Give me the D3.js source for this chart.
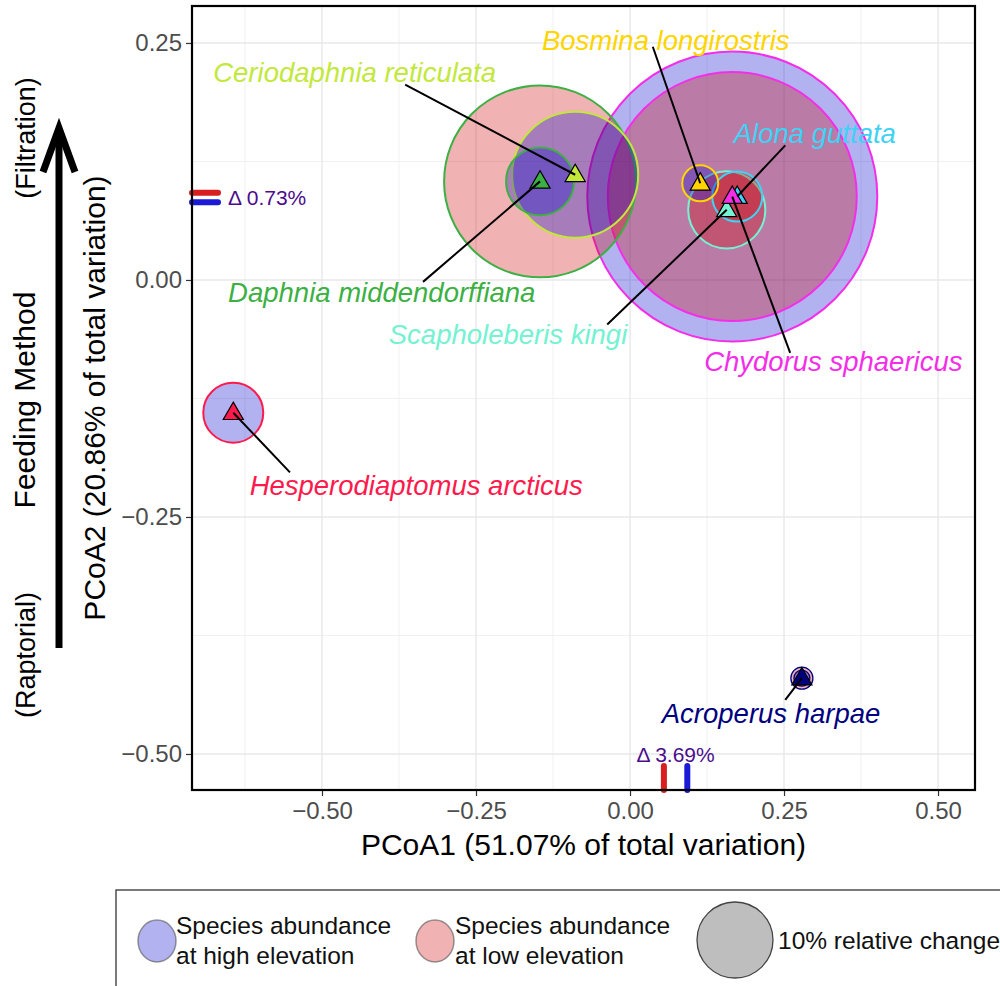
<!DOCTYPE html>
<html>
<head>
<meta charset="utf-8">
<script src="https://cdn.jsdelivr.net/npm/d3@7"></script>
<style>
  html, body { margin: 0; padding: 0; background: #fff; }
  svg { display: block; }
  text { font-family: "Liberation Sans", Arial, Helvetica, sans-serif; }
</style>
</head>
<body>
<svg id="chart" width="1000" height="986"></svg>
<script>
// ---- data ----------------------------------------------------------------
const species = [
  "Daphnia middendorffiana", "Ceriodaphnia reticulata", "Bosmina longirostris",
  "Scapholeberis kingi", "Alona guttata", "Chydorus sphaericus",
  "Hesperodiaptomus arcticus", "Acroperus harpae"
];
const speciesColors = [
  "#3cb043", "#c2e83c", "#ffd500", "#74f2d2", "#3fd2f5", "#f42ee8",
  "#ff1a4d", "#00007f"
];
// ordination scores
const pcoa1 = [-0.146, -0.089, 0.114, 0.157, 0.174, 0.166, -0.644, 0.279];
const pcoa2 = [ 0.104,  0.111, 0.102, 0.074, 0.088, 0.088, -0.140, -0.420];
// relative abundance (%) at each elevation
const highElev = [8.0, 27.5, 2.24, 0, 0, 145.6, 6.23, 0.44];
const lowElev  = [63.8, 0, 0, 10.3, 4.33, 107.3, 0, 0.84];
// label placement (data units) and leader-line start
const labelX = [-0.403, -0.447, 0.058, -0.198, 0.300, 0.330, -0.347, 0.229];
const labelY = [-0.013,  0.219, 0.253, -0.057, 0.155, -0.086, -0.216, -0.457];
const leadX  = [-0.336, -0.365, 0.037, -0.037, 0.252, 0.260, -0.552, 0.252];
const leadY  = [-0.002,  0.206, 0.246, -0.047, 0.142, -0.077, -0.203, -0.443];

// abundance-weighted centroids on each axis (low vs high elevation)
const centroidAxis1 = { low: 0.055, high: 0.093, label: "Δ 3.69%" };
const centroidAxis2 = { low: 0.092, high: 0.082, label: "Δ 0.73%" };

const xTicks = [-0.50, -0.25, 0.00, 0.25, 0.50];
const yTicks = [-0.50, -0.25, 0.00, 0.25];
const xMinor = [-0.625, -0.375, -0.125, 0.125, 0.375];
const yMinor = [-0.375, -0.125, 0.125];

const xTitle = "PCoA1 (51.07% of total variation)";
const yTitle = "PCoA2 (20.86% of total variation)";
const legendHigh = ["Species abundance", "at high elevation"];
const legendLow  = ["Species abundance", "at low elevation"];
const legendSizeValue = 10;
const legendSizeLabel = "10% relative change";

// ---- layout ----------------------------------------------------------------
const svg = d3.select("#chart");
const panel = { left: 192, right: 975, top: 6, bottom: 790 };

const x = d3.scaleLinear().domain([-0.711, 0.560]).range([panel.left, panel.right]);
const y = d3.scaleLinear().domain([-0.538, 0.289]).range([panel.bottom, panel.top]);
const r = d3.scaleSqrt().domain([0, 10]).range([0, 38]);

const HIGH_FILL = "#0000cc", LOW_FILL = "#cc0000", FILL_ALPHA = 0.3;
const fmt = d3.format(".2f");

svg.append("rect").attr("width", 1000).attr("height", 986).attr("fill", "#fff");

// grid
const grid = svg.append("g");
grid.selectAll(".vminor").data(xMinor).join("line")
  .attr("x1", d => x(d)).attr("x2", d => x(d))
  .attr("y1", panel.top).attr("y2", panel.bottom)
  .attr("stroke", "#f0f0f0").attr("stroke-width", 1);
grid.selectAll(".hminor").data(yMinor).join("line")
  .attr("y1", d => y(d)).attr("y2", d => y(d))
  .attr("x1", panel.left).attr("x2", panel.right)
  .attr("stroke", "#f0f0f0").attr("stroke-width", 1);
grid.selectAll(".vmajor").data(xTicks).join("line")
  .attr("x1", d => x(d)).attr("x2", d => x(d))
  .attr("y1", panel.top).attr("y2", panel.bottom)
  .attr("stroke", "#e8e8e8").attr("stroke-width", 1.4);
grid.selectAll(".hmajor").data(yTicks).join("line")
  .attr("y1", d => y(d)).attr("y2", d => y(d))
  .attr("x1", panel.left).attr("x2", panel.right)
  .attr("stroke", "#e8e8e8").attr("stroke-width", 1.4);

// abundance circles, largest first so small ones sit on top
const circles = [];
species.forEach((s, i) => {
  if (highElev[i] > 0) circles.push({ i, v: highElev[i], fill: HIGH_FILL });
  if (lowElev[i] > 0)  circles.push({ i, v: lowElev[i],  fill: LOW_FILL });
});
circles.sort((a, b) => b.v - a.v);
svg.append("g").selectAll("circle").data(circles).join("circle")
  .attr("cx", d => x(pcoa1[d.i])).attr("cy", d => y(pcoa2[d.i]))
  .attr("r", d => r(d.v))
  .attr("fill", d => d.fill).attr("fill-opacity", FILL_ALPHA)
  .attr("stroke", d => speciesColors[d.i])
  .attr("stroke-width", d => r(d.v) < 14 ? 1.3 : 2);

// centroid shift marks
const marks = svg.append("g").attr("stroke-width", 6).attr("stroke-linecap", "round");
marks.append("line")
  .attr("x1", x(centroidAxis1.low)).attr("x2", x(centroidAxis1.low))
  .attr("y1", panel.bottom).attr("y2", panel.bottom - 24).attr("stroke", "#d81e1e");
marks.append("line")
  .attr("x1", x(centroidAxis1.high)).attr("x2", x(centroidAxis1.high))
  .attr("y1", panel.bottom).attr("y2", panel.bottom - 24).attr("stroke", "#1a1ad6");
marks.append("line")
  .attr("y1", y(centroidAxis2.low)).attr("y2", y(centroidAxis2.low))
  .attr("x1", panel.left).attr("x2", panel.left + 26).attr("stroke", "#d81e1e");
marks.append("line")
  .attr("y1", y(centroidAxis2.high)).attr("y2", y(centroidAxis2.high))
  .attr("x1", panel.left).attr("x2", panel.left + 26).attr("stroke", "#1a1ad6");
svg.append("text")
  .attr("x", (x(centroidAxis1.low) + x(centroidAxis1.high)) / 2).attr("y", panel.bottom - 28)
  .attr("text-anchor", "middle").attr("font-size", 21).attr("fill", "#4b0d8c")
  .text(centroidAxis1.label);
svg.append("text")
  .attr("x", panel.left + 36).attr("y", (y(centroidAxis2.low) + y(centroidAxis2.high)) / 2)
  .attr("dy", "0.35em").attr("font-size", 21).attr("fill", "#4b0d8c")
  .text(centroidAxis2.label);

// species points
svg.append("g").selectAll("path").data(species).join("path")
  .attr("transform", (d, i) => `translate(${x(pcoa1[i])},${y(pcoa2[i]) + 1})`)
  .attr("d", d3.symbol(d3.symbolTriangle, 175))
  .attr("fill", (d, i) => speciesColors[i])
  .attr("stroke", "#000").attr("stroke-width", 1.2);

// leader lines
svg.append("g").selectAll("line").data(species).join("line")
  .attr("x1", (d, i) => x(leadX[i])).attr("y1", (d, i) => y(leadY[i]))
  .attr("x2", (d, i) => x(pcoa1[i])).attr("y2", (d, i) => y(pcoa2[i]))
  .attr("stroke", "#000").attr("stroke-width", 2);

// species labels
svg.append("g").selectAll("text").data(species).join("text")
  .attr("x", (d, i) => x(labelX[i])).attr("y", (d, i) => y(labelY[i]))
  .attr("dy", "0.36em").attr("text-anchor", "middle")
  .attr("font-size", 27.5).attr("font-style", "italic")
  .attr("fill", (d, i) => speciesColors[i])
  .text(d => d);

// panel border
svg.append("rect")
  .attr("x", panel.left).attr("y", panel.top)
  .attr("width", panel.right - panel.left).attr("height", panel.bottom - panel.top)
  .attr("fill", "none").attr("stroke", "#000").attr("stroke-width", 2.2);

// axes
const xAxis = svg.append("g").attr("transform", `translate(0,${panel.bottom + 1})`)
  .call(d3.axisBottom(x).tickValues(xTicks).tickFormat(fmt).tickSize(5).tickPadding(6));
const yAxis = svg.append("g").attr("transform", `translate(${panel.left - 1},0)`)
  .call(d3.axisLeft(y).tickValues(yTicks).tickFormat(fmt).tickSize(5).tickPadding(4));
[xAxis, yAxis].forEach(a => {
  a.select(".domain").remove();
  a.selectAll(".tick line").attr("stroke", "#333").attr("stroke-width", 1.2);
  a.selectAll(".tick text").attr("fill", "#4d4d4d").attr("font-size", 24)
    .attr("font-family", "'Liberation Sans', Arial, sans-serif");
});

svg.append("text")
  .attr("x", (panel.left + panel.right) / 2).attr("y", 855)
  .attr("text-anchor", "middle").attr("font-size", 30).attr("fill", "#000")
  .text(xTitle);
svg.append("text")
  .attr("transform", `translate(105,${(panel.top + panel.bottom) / 2}) rotate(-90)`)
  .attr("text-anchor", "middle").attr("font-size", 30).attr("fill", "#000")
  .text(yTitle);

// feeding-method annotation
const side = svg.append("g");
side.append("text").attr("transform", "translate(35,400) rotate(-90)")
  .attr("text-anchor", "middle").attr("font-size", 30).text("Feeding Method");
side.append("text").attr("transform", "translate(35,138) rotate(-90)")
  .attr("text-anchor", "middle").attr("font-size", 27).text("(Filtration)");
side.append("text").attr("transform", "translate(35,655) rotate(-90)")
  .attr("text-anchor", "middle").attr("font-size", 27).text("(Raptorial)");
side.append("line").attr("x1", 59).attr("x2", 59).attr("y1", 648).attr("y2", 130)
  .attr("stroke", "#000").attr("stroke-width", 7);
side.append("path").attr("d", "M43,172 L59,128 L75,172")
  .attr("fill", "none").attr("stroke", "#000").attr("stroke-width", 7)
  .attr("stroke-linejoin", "miter");

// legend
const lg = svg.append("g");
lg.append("rect").attr("x", 116).attr("y", 890).attr("width", 920).attr("height", 140)
  .attr("fill", "#fff").attr("stroke", "#333").attr("stroke-width", 1.3);
const keys = [
  { cx: 157, fill: HIGH_FILL, lines: legendHigh, tx: 176 },
  { cx: 435, fill: LOW_FILL,  lines: legendLow,  tx: 455 }
];
keys.forEach(k => {
  lg.append("ellipse").attr("cx", k.cx).attr("cy", 941).attr("rx", 19).attr("ry", 21)
    .attr("fill", k.fill).attr("fill-opacity", FILL_ALPHA)
    .attr("stroke", "#555").attr("stroke-opacity", 0.6).attr("stroke-width", 1.5);
  k.lines.forEach((t, j) => {
    lg.append("text").attr("x", k.tx).attr("y", 934 + j * 30)
      .attr("font-size", 24.5).attr("fill", "#111").text(t);
  });
});
lg.append("circle").attr("cx", 735).attr("cy", 940).attr("r", r(legendSizeValue))
  .attr("fill", "#bebebe").attr("stroke", "#444").attr("stroke-width", 1.3);
lg.append("text").attr("x", 778).attr("y", 940).attr("dy", "0.35em")
  .attr("font-size", 24.5).attr("fill", "#111").text(legendSizeLabel);
</script>
</body>
</html>
